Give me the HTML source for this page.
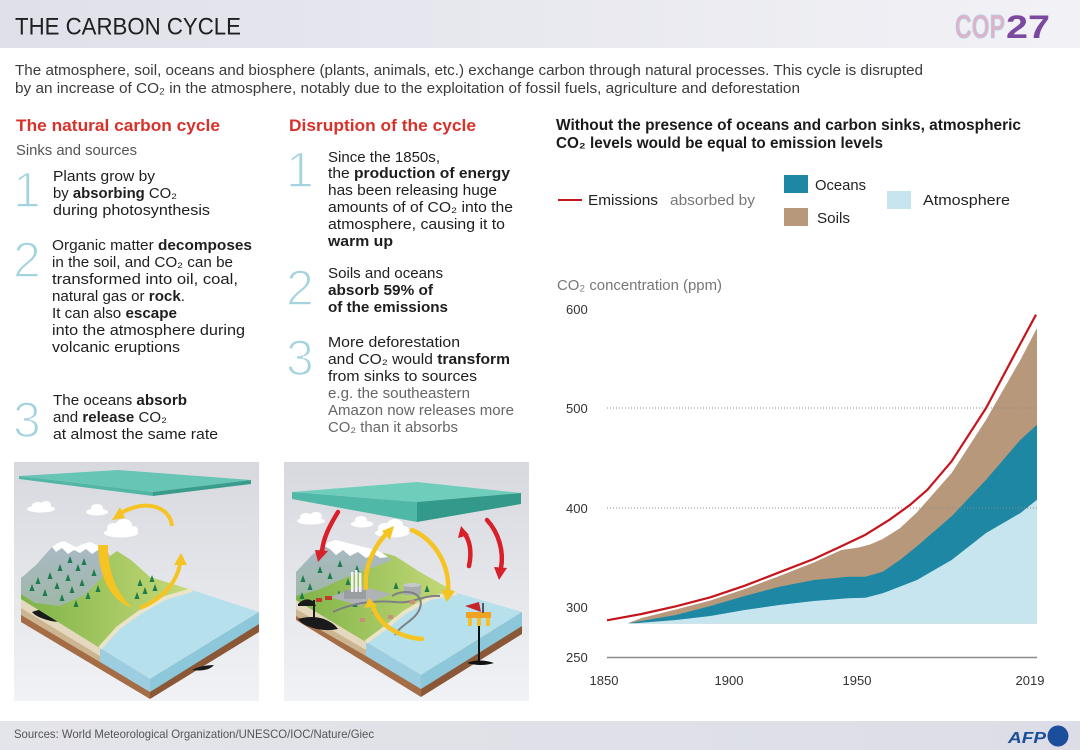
<!DOCTYPE html>
<html><head><meta charset="utf-8"><style>
html,body{margin:0;padding:0;background:#fff;}
svg{display:block;}
text{font-family:"Liberation Sans",Arial,sans-serif;}
</style></head><body>
<svg width="1080" height="750" viewBox="0 0 1080 750" xmlns="http://www.w3.org/2000/svg">
<defs>
<linearGradient id="hdr" x1="0" x2="1" y1="0" y2="0"><stop offset="0" stop-color="#dfe0e9"/><stop offset="1" stop-color="#f2f2f6"/></linearGradient>
<linearGradient id="ftr" x1="0" x2="1" y1="0" y2="0"><stop offset="0" stop-color="#e4e5ea"/><stop offset="1" stop-color="#dcdde6"/></linearGradient>
<linearGradient id="ibg" x1="0" x2="0" y1="0" y2="1"><stop offset="0" stop-color="#d7d9df"/><stop offset="1" stop-color="#f1f2f5"/></linearGradient>
<linearGradient id="grn" x1="0" x2="1" y1="0" y2="0"><stop offset="0" stop-color="#7db347"/><stop offset="1" stop-color="#c8da7a"/></linearGradient>
<linearGradient id="mtn" x1="0" x2="0" y1="0" y2="1"><stop offset="0" stop-color="#aab9c6"/><stop offset="1" stop-color="#9fb8a8"/></linearGradient>
</defs>

<!-- header -->
<rect x="0" y="0" width="1080" height="48" fill="url(#hdr)"/>
<text x="15" y="34.5" font-size="24" fill="#1f1f1f" textLength="226" lengthAdjust="spacingAndGlyphs">THE CARBON CYCLE</text>
<text x="955" y="38" font-size="33" font-weight="bold" fill="#e2b0cb" stroke="#a9d7e3" stroke-width="0.8" textLength="50" lengthAdjust="spacingAndGlyphs">COP</text>
<text x="1006" y="38" font-size="32" font-weight="bold" fill="#7b4a9e" textLength="44" lengthAdjust="spacingAndGlyphs">27</text>

<text x="15" y="75" font-size="15" fill="#3a3a3a" textLength="908" lengthAdjust="spacingAndGlyphs">The atmosphere, soil, oceans and biosphere (plants, animals, etc.) exchange carbon through natural processes. This cycle is disrupted</text>
<text x="15" y="93" font-size="15" fill="#3a3a3a" textLength="785" lengthAdjust="spacingAndGlyphs">by an increase of CO₂ in the atmosphere, notably due to the exploitation of fossil fuels, agriculture and deforestation</text>

<!-- left column -->
<text x="16" y="131" font-size="16.5" font-weight="bold" fill="#d8312a" textLength="204" lengthAdjust="spacingAndGlyphs">The natural carbon cycle</text>
<text x="16" y="155" font-size="14.5" fill="#555" textLength="121" lengthAdjust="spacingAndGlyphs">Sinks and sources</text>
<g font-size="50" fill="#a3d3de" stroke="#fff" stroke-width="1.6">
<text x="13" y="207">1</text>
<text x="13" y="277">2</text>
<text x="13" y="437">3</text>
<text x="286" y="187">1</text>
<text x="286" y="305">2</text>
<text x="286" y="375">3</text>
</g>
<g font-size="14.5" fill="#1e1e1e">
<text x="53" y="181" textLength="102" lengthAdjust="spacingAndGlyphs">Plants grow by</text>
<text x="53" y="198" textLength="124" lengthAdjust="spacingAndGlyphs">by <tspan font-weight="bold">absorbing</tspan> CO₂</text>
<text x="53" y="215" textLength="157" lengthAdjust="spacingAndGlyphs">during photosynthesis</text>
<text x="52" y="250" textLength="200" lengthAdjust="spacingAndGlyphs">Organic matter <tspan font-weight="bold">decomposes</tspan></text>
<text x="52" y="267" textLength="181" lengthAdjust="spacingAndGlyphs">in the soil, and CO₂ can be</text>
<text x="52" y="284" textLength="186" lengthAdjust="spacingAndGlyphs">transformed into oil, coal,</text>
<text x="52" y="301" textLength="133" lengthAdjust="spacingAndGlyphs">natural gas or <tspan font-weight="bold">rock</tspan>.</text>
<text x="52" y="318" textLength="125" lengthAdjust="spacingAndGlyphs">It can also <tspan font-weight="bold">escape</tspan></text>
<text x="52" y="335" textLength="193" lengthAdjust="spacingAndGlyphs">into the atmosphere during</text>
<text x="52" y="352" textLength="128" lengthAdjust="spacingAndGlyphs">volcanic eruptions</text>
<text x="53" y="405" textLength="134" lengthAdjust="spacingAndGlyphs">The oceans <tspan font-weight="bold">absorb</tspan></text>
<text x="53" y="422" textLength="114" lengthAdjust="spacingAndGlyphs">and <tspan font-weight="bold">release</tspan> CO₂</text>
<text x="53" y="439" textLength="165" lengthAdjust="spacingAndGlyphs">at almost the same rate</text>
</g>

<!-- middle column -->
<text x="289" y="131" font-size="16.5" font-weight="bold" fill="#d8312a" textLength="187" lengthAdjust="spacingAndGlyphs">Disruption of the cycle</text>
<g font-size="14.5" fill="#1e1e1e">
<text x="328" y="162" textLength="112" lengthAdjust="spacingAndGlyphs">Since the 1850s,</text>
<text x="328" y="178" textLength="182" lengthAdjust="spacingAndGlyphs">the <tspan font-weight="bold">production of energy</tspan></text>
<text x="328" y="195" textLength="169" lengthAdjust="spacingAndGlyphs">has been releasing huge</text>
<text x="328" y="212" textLength="185" lengthAdjust="spacingAndGlyphs">amounts of of CO₂ into the</text>
<text x="328" y="229" textLength="177" lengthAdjust="spacingAndGlyphs">atmosphere, causing it to</text>
<text x="328" y="246" font-weight="bold" textLength="65" lengthAdjust="spacingAndGlyphs">warm up</text>
<text x="328" y="278" textLength="115" lengthAdjust="spacingAndGlyphs">Soils and oceans</text>
<text x="328" y="295" font-weight="bold" textLength="105" lengthAdjust="spacingAndGlyphs">absorb 59% of</text>
<text x="328" y="312" font-weight="bold" textLength="120" lengthAdjust="spacingAndGlyphs">of the emissions</text>
<text x="328" y="347" textLength="132" lengthAdjust="spacingAndGlyphs">More deforestation</text>
<text x="328" y="364" textLength="182" lengthAdjust="spacingAndGlyphs">and CO₂ would <tspan font-weight="bold">transform</tspan></text>
<text x="328" y="381" textLength="149" lengthAdjust="spacingAndGlyphs">from sinks to sources</text>
</g>
<g font-size="14.5" fill="#666">
<text x="328" y="398" textLength="142" lengthAdjust="spacingAndGlyphs">e.g. the southeastern</text>
<text x="328" y="415" textLength="186" lengthAdjust="spacingAndGlyphs">Amazon now releases more</text>
<text x="328" y="432" textLength="130" lengthAdjust="spacingAndGlyphs">CO₂ than it absorbs</text>
</g>

<!-- right column header & legend -->
<text x="556" y="130" font-size="15.5" font-weight="bold" fill="#1a1a1a" textLength="465" lengthAdjust="spacingAndGlyphs">Without the presence of oceans and carbon sinks, atmospheric</text>
<text x="556" y="148" font-size="15.5" font-weight="bold" fill="#1a1a1a" textLength="327" lengthAdjust="spacingAndGlyphs">CO₂ levels would be equal to emission levels</text>

<line x1="558" y1="200" x2="582" y2="200" stroke="#c4161c" stroke-width="2"/>
<text x="588" y="205" font-size="15" fill="#222" textLength="70" lengthAdjust="spacingAndGlyphs">Emissions</text>
<text x="670" y="205" font-size="15" fill="#777" textLength="85" lengthAdjust="spacingAndGlyphs">absorbed by</text>
<rect x="784" y="175" width="24" height="18" fill="#1e88a4"/>
<text x="815" y="190" font-size="15" fill="#222" textLength="51" lengthAdjust="spacingAndGlyphs">Oceans</text>
<rect x="784" y="208" width="24" height="18" fill="#b8987a"/>
<text x="817" y="223" font-size="15" fill="#222" textLength="33" lengthAdjust="spacingAndGlyphs">Soils</text>
<rect x="887" y="191" width="24" height="18" fill="#c7e5ef"/>
<text x="923" y="205" font-size="15" fill="#222" textLength="87" lengthAdjust="spacingAndGlyphs">Atmosphere</text>

<text x="557" y="290" font-size="15" fill="#777" textLength="165" lengthAdjust="spacingAndGlyphs">CO₂ concentration (ppm)</text>

<!-- chart -->
<path d="M627.7,623.3 L641.5,618 L675.9,609.5 L710.4,600.5 L744.8,589 L779.3,576 L813.8,562.5 L841.3,550 L858.6,547.5 L870,544.5 L882.7,539 L899.9,528.3 L917,512.3 L951.6,473 L986.1,419.7 L1020.5,359.7 L1037,328 L1037,623.3 Z" fill="#b8987a"/>
<path d="M627.7,623.3 L675.9,615 L710.4,606 L744.8,596 L779.3,586.7 L813.8,580 L848.2,576.7 L865.5,576.7 L882.7,571.7 L899.9,560 L917,546.3 L951.6,516.3 L986.1,479.7 L1020.5,439.7 L1037,424.7 L1037,623.3 Z" fill="#1e88a4"/>
<path d="M634.6,623.3 L675.9,620 L710.4,616 L744.8,610 L779.3,605 L813.8,601 L848.2,598.3 L865.5,597.7 L882.7,593.3 L917,580 L951.6,560 L986.1,533 L1020.5,513 L1037,499.7 L1037,623.3 Z" fill="#c7e5ef"/>
<line x1="607" y1="408" x2="1037" y2="408" stroke="#888" stroke-width="1" stroke-dasharray="1,2"/>
<line x1="607" y1="508" x2="1037" y2="508" stroke="#888" stroke-width="1" stroke-dasharray="1,2"/>
<line x1="607" y1="657.5" x2="1037" y2="657.5" stroke="#8a8a8a" stroke-width="1.5"/>
<polyline points="607,620.3 641.5,614 675.9,606.3 710.4,597.3 744.8,585.7 779.3,572.3 813.8,559 841.3,546.3 865.5,534.7 889.6,519.7 910.3,504.7 927.5,489.7 951.6,461.3 986.1,408 1013.6,356.3 1036,314.7" fill="none" stroke="#fff" stroke-width="4.5" stroke-linejoin="round"/>
<polyline points="607,620.3 641.5,614 675.9,606.3 710.4,597.3 744.8,585.7 779.3,572.3 813.8,559 841.3,546.3 865.5,534.7 889.6,519.7 910.3,504.7 927.5,489.7 951.6,461.3 986.1,408 1013.6,356.3 1036,314.7" fill="none" stroke="#c4161c" stroke-width="2.2" stroke-linejoin="round"/>

<g font-size="13" fill="#333">
<text x="566" y="314">600</text>
<text x="566" y="413">500</text>
<text x="566" y="513">400</text>
<text x="566" y="612">300</text>
<text x="566" y="662">250</text>
</g>
<g font-size="13" fill="#333" text-anchor="middle">
<text x="604" y="685">1850</text>
<text x="729" y="685">1900</text>
<text x="857" y="685">1950</text>
<text x="1030" y="685">2019</text>
</g>

<!-- LEFT ILLUSTRATION -->
<rect x="14" y="462" width="245" height="239" fill="url(#ibg)"/>
<polygon points="19,476 118,470 251,480 153,492" fill="#66c5b4"/>
<polygon points="19,476 153,492 153,496 19,479" fill="#52b6a5"/>
<polygon points="153,492 251,480 251,484 153,496" fill="#3a9c8c"/>
<g fill="#fff">
<ellipse cx="41" cy="509" rx="14" ry="3.5"/><ellipse cx="38" cy="506" rx="6" ry="4"/><ellipse cx="46" cy="505" rx="5" ry="4"/>
<ellipse cx="97" cy="512" rx="11" ry="3.5"/><ellipse cx="97" cy="508" rx="6" ry="4"/>
<ellipse cx="121" cy="533" rx="17" ry="4.5"/><ellipse cx="114" cy="528" rx="7" ry="5"/><ellipse cx="124" cy="525" rx="8" ry="6"/><ellipse cx="132" cy="530" rx="6" ry="4"/>
</g>
<polygon points="21,599 150,679 150,699 21,622" fill="#a46d46"/>
<polygon points="21,599 100,648 100,657 21,609" fill="#e4d8bf"/>
<polygon points="21,608 100,656 100,662 21,615" fill="#cdb592"/>
<polygon points="100,648 150,679 150,692 100,662" fill="#9ccde0"/>
<polygon points="150,679 259,612 259,632 150,699" fill="#8a5836"/>
<polygon points="150,679 259,612 259,624 150,692" fill="#8dc7da"/>
<path d="M32,612 q12,-5 22,-1 q10,3 16,9 q-12,4 -26,-1 q-9,-3 -12,-7z" fill="#1a1a1a"/>
<path d="M192,670 q9,-5 22,-5 q-6,7 -22,5z" fill="#1a1a1a"/>
<polygon points="100,648 150,679 259,612 192,590 165,598 140,612 118,628" fill="#b5e0ec"/>
<polygon points="21,599 21,588 110,556 117,551 131,560 150,577 192,590 165,598 140,612 118,628 100,648" fill="url(#grn)"/>
<polyline points="100,648 118,628 140,612 165,598 192,590" stroke="#ece4c8" stroke-width="4" fill="none"/>
<polygon points="21,594 21,578 36,565 52,547 64,541 76,547 90,542 103,548 110,556 104,575 85,595 60,606 35,603" fill="url(#mtn)"/>
<polygon points="52,547 58,543 64,541 70,544 76,547 83,544 90,542 97,545 103,548 110,552 104,553 98,550 92,554 86,549 80,553 74,550 68,554 62,548 56,552" fill="#fff"/>
<g fill="#1e7b4c">
<polygon points="32,584 29.5,591 34.5,591"/><polygon points="38,577 35.5,584 40.5,584"/><polygon points="45,589 42.5,596 47.5,596"/><polygon points="50,572 47.5,579 52.5,579"/><polygon points="57,582 54.5,589 59.5,589"/><polygon points="62,594 59.5,601 64.5,601"/><polygon points="68,574 65.5,581 70.5,581"/><polygon points="72,586 69.5,593 74.5,593"/><polygon points="78,564 75.5,571 80.5,571"/><polygon points="82,579 79.5,586 84.5,586"/><polygon points="88,592 85.5,599 90.5,599"/><polygon points="94,569 91.5,576 96.5,576"/><polygon points="60,564 57.5,571 62.5,571"/><polygon points="70,556 67.5,563 72.5,563"/><polygon points="84,558 81.5,565 86.5,565"/><polygon points="140,579 137.5,586 142.5,586"/><polygon points="145,587 142.5,594 147.5,594"/><polygon points="152,575 149.5,582 154.5,582"/><polygon points="155,584 152.5,591 157.5,591"/><polygon points="137,592 134.5,599 139.5,599"/><polygon points="76,600 73.5,607 78.5,607"/><polygon points="98,585 95.5,592 100.5,592"/>
</g>
<g fill="#f5c423" stroke="none">
<path d="M172,526 C170,506 145,499 121,513" fill="none" stroke="#f5c423" stroke-width="4"/>
<polygon points="112,520 120,507 125,518"/>
<path d="M98,545 L108,545 C108,575 118,595 133,608 C116,603 99,585 98,545 Z"/>
<path d="M140,608 C160,600 176,585 180,564" fill="none" stroke="#f5c423" stroke-width="4"/>
<polygon points="181,553 174,565 187,565"/>
</g>

<!-- RIGHT ILLUSTRATION -->
<rect x="284" y="462" width="245" height="239" fill="url(#ibg)"/>
<polygon points="292,492 417,482 521,493 417,502" fill="#6fcdbc"/>
<polygon points="292,492 417,502 417,522 292,499" fill="#4fb8a7"/>
<polygon points="417,502 521,493 521,504 417,522" fill="#33998a"/>
<g fill="#fff">
<ellipse cx="311" cy="521" rx="14" ry="3.5"/><ellipse cx="306" cy="517" rx="6" ry="4"/><ellipse cx="316" cy="516" rx="6" ry="4"/>
<ellipse cx="362" cy="524" rx="11" ry="3.5"/><ellipse cx="361" cy="520" rx="6" ry="4"/>
<ellipse cx="392" cy="533" rx="17" ry="4.5"/><ellipse cx="385" cy="528" rx="7" ry="5"/><ellipse cx="395" cy="525" rx="8" ry="6"/><ellipse cx="403" cy="530" rx="6" ry="4"/>
</g>
<polygon points="296,600 421,675 421,697 296,620" fill="#a46d46"/>
<polygon points="296,600 366,642 366,651 296,610" fill="#e4d8bf"/>
<polygon points="296,609 366,650 366,656 296,616" fill="#cdb592"/>
<polygon points="366,642 421,675 421,689 366,656" fill="#9ccde0"/>
<polygon points="421,675 522,612 522,634 421,697" fill="#8a5836"/>
<polygon points="421,675 522,612 522,626 421,689" fill="#8dc7da"/>
<path d="M298,619 q14,-4 26,0 q10,4 14,10 q-14,3 -28,-2 q-9,-3 -12,-8z" fill="#1a1a1a"/>
<polygon points="366,642 421,675 522,612 457,593 430,598 405,612 385,628" fill="#b5e0ec"/>
<polygon points="296,600 296,588 380,552 395,556 420,572 457,593 430,598 405,612 385,628 366,642" fill="url(#grn)"/>
<polyline points="366,642 385,628 405,612 430,598 457,593" stroke="#ece4c8" stroke-width="4" fill="none"/>
<polygon points="296,596 296,572 312,555 327,543 344,542 364,547 381,552 392,560 372,568 345,578 318,590" fill="url(#mtn)"/>
<polygon points="324,546 327,543 335,540 344,542 352,544 364,547 372,549 381,552 388,557 380,558 374,554 366,558 358,552 350,556 343,550 336,555 330,549" fill="#fff"/>
<g fill="#1e7b4c">
<polygon points="303,575 300.5,582 305.5,582"/><polygon points="310,583 307.5,590 312.5,590"/><polygon points="320,566 317.5,573 322.5,573"/><polygon points="330,572 327.5,579 332.5,579"/><polygon points="340,560 337.5,567 342.5,567"/><polygon points="348,578 345.5,585 350.5,585"/><polygon points="357,565 354.5,572 359.5,572"/><polygon points="339,590 336.5,597 341.5,597"/><polygon points="355,600 352.5,607 357.5,607"/><polygon points="396,582 393.5,589 398.5,589"/><polygon points="427,585 424.5,592 429.5,592"/><polygon points="302,592 299.5,599 304.5,599"/>
</g>
<polygon points="330,597 360,586 392,594 360,606" fill="#b0b3b6"/>
<rect x="344" y="590" width="22" height="9" fill="#9a9ea3"/>
<rect x="351" y="572" width="2.5" height="20" fill="#f2f2f2"/><rect x="355" y="570" width="2.5" height="22" fill="#f2f2f2"/><rect x="359" y="573" width="2.5" height="19" fill="#f2f2f2"/>
<rect x="404" y="585" width="17" height="10" fill="#a9adb1"/><ellipse cx="412" cy="585" rx="8.5" ry="2" fill="#c6c9cc"/>
<path d="M333,612 C350,604 370,600 395,602 C415,604 420,595 440,596 M392,596 C405,588 425,592 420,608 C416,620 400,625 395,635" fill="none" stroke="#7d8084" stroke-width="2"/>
<g fill="#c98f7a"><rect x="372" y="610" width="5" height="4"/><rect x="388" y="615" width="5" height="4"/><rect x="410" y="600" width="5" height="4"/><rect x="360" y="618" width="5" height="4"/><rect x="316" y="598" width="6" height="4" fill="#c23a2e"/><rect x="325" y="596" width="7" height="4" fill="#c23a2e"/></g>
<path d="M298,604 q8,-8 16,-2 l2,4 l-18,0z" fill="#1a1a1a"/>
<rect x="313" y="600" width="2" height="20" fill="#1a1a1a"/>
<rect x="478" y="625" width="2" height="38" fill="#111"/>
<path d="M467,663 q12,-5 27,0 q-13,4 -27,0z" fill="#111"/>
<rect x="466" y="612" width="25" height="6" fill="#f0a323"/>
<rect x="468" y="618" width="4" height="8" fill="#f3c02a"/><rect x="477" y="618" width="4" height="8" fill="#f3c02a"/><rect x="486" y="618" width="4" height="8" fill="#f3c02a"/>
<path d="M465,606 l14,-4 l2,10 z" fill="#c8242c"/>
<rect x="482" y="603" width="2" height="10" fill="#555"/>
<g fill="none" stroke="#d7202a" stroke-width="4.5" stroke-linecap="round">
<path d="M338,512 C330,525 323,538 322,552"/>
<path d="M469,566 C472,552 470,540 464,533"/>
<path d="M487,520 C499,533 504,552 501,568"/>
</g>
<g fill="#d7202a">
<polygon points="318,562 315,550 328,551"/>
<polygon points="461,526 458,538 469,535"/>
<polygon points="499,580 494,567 507,568"/>
</g>
<g fill="none" stroke="#f5c423" stroke-width="4.5" stroke-linecap="round">
<path d="M388,532 C372,548 364,570 366,588"/>
<path d="M372,604 C378,625 398,637 422,639"/>
<path d="M412,530 C435,540 450,565 448,592"/>
</g>
<g fill="#f5c423">
<polygon points="394,526 382,531 390,540"/>
<polygon points="369,598 364,608 377,606"/>
<polygon points="447,602 441,590 455,591"/>
</g>

<!-- footer -->
<rect x="0" y="721" width="1080" height="29" fill="url(#ftr)"/>
<text x="14" y="738" font-size="12" fill="#555" textLength="360" lengthAdjust="spacingAndGlyphs">Sources: World Meteorological Organization/UNESCO/IOC/Nature/Giec</text>
<text x="1008" y="743" font-size="16" font-weight="bold" font-style="italic" fill="#1b4e9b" textLength="38" lengthAdjust="spacingAndGlyphs">AFP</text>
<circle cx="1058" cy="736" r="10.5" fill="#1b4e9b"/>
</svg>
</body></html>
